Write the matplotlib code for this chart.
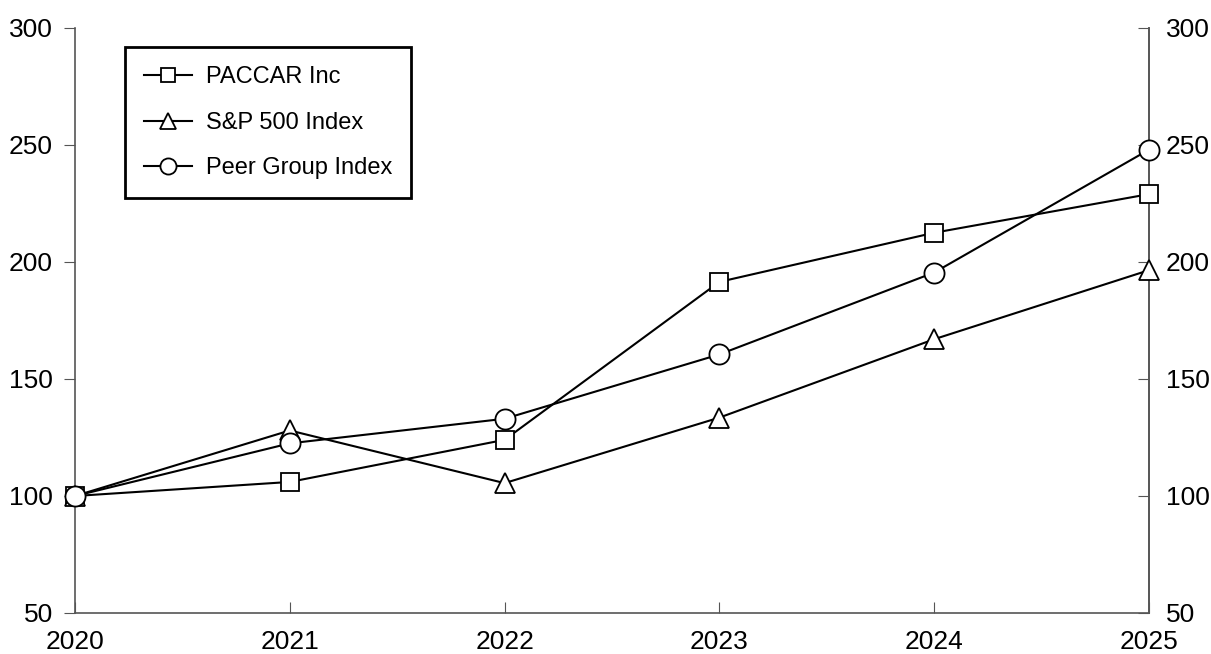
import matplotlib
matplotlib.use("Agg")
import matplotlib.pyplot as plt

plt.rcParams["font.family"] = ["Liberation Sans", "DejaVu Sans"]

# 데이터
years = [2020, 2021, 2022, 2023, 2024, 2025]
paccar = [100, 106, 124, 191.5, 212.5, 229]
sp500 = [100, 128, 105.5, 133.5, 167, 196.5]
peer = [100, 122.5, 133, 160.5, 195.5, 248]

fig = plt.figure(figsize=(12.11, 6.54), dpi=100)
ax = fig.add_axes([0.0619, 0.0627, 0.8869, 0.8945])

line_kw = dict(color="black", lw=1.5, markerfacecolor="white", markeredgecolor="black",
               markeredgewidth=1.3, clip_on=False, zorder=5)
ax.plot(years, paccar, marker="s", markersize=12.5, label="PACCAR Inc", **line_kw)
ax.plot(years, sp500, marker="^", markersize=15, label="S&P 500 Index", **line_kw)
ax.plot(years, peer, marker="o", markersize=14.5, label="Peer Group Index", **line_kw)

ax.set_xlim(2020, 2025)
ax.set_ylim(50, 300)
ax.set_xticks(years)
ax.set_yticks(range(50, 301, 50))

spine_color = "#555555"
ax.spines["top"].set_visible(False)
for side in ["left", "bottom", "right"]:
    ax.spines[side].set_color(spine_color)
    ax.spines[side].set_linewidth(1.2)

ax.tick_params(axis="y", direction="out", length=8, color=spine_color, labelsize=19, pad=8)
ax.tick_params(axis="x", direction="in", length=8, color=spine_color, labelsize=19, pad=12)

# 오른쪽 축
ax2 = ax.twinx()
ax2.set_ylim(50, 300)
ax2.set_yticks(range(50, 301, 50))
for side in ["top", "left", "bottom"]:
    ax2.spines[side].set_visible(False)
ax2.spines["right"].set_color(spine_color)
ax2.spines["right"].set_linewidth(1.2)
ax2.tick_params(axis="y", direction="in", length=8, color=spine_color, labelsize=19, pad=12)
ax2.set_zorder(-1)
ax.patch.set_visible(False)

leg = ax.legend(loc="upper left", bbox_to_anchor=(0.047, 0.967), fontsize=17,
                handlelength=2.0, handletextpad=0.6, markerscale=0.8,
                borderpad=0.8, labelspacing=1.0, fancybox=False, framealpha=1,
                borderaxespad=0)
leg.get_frame().set_edgecolor("black")
leg.get_frame().set_linewidth(2)

plt.savefig("out.png", dpi=100)
plt.close()
